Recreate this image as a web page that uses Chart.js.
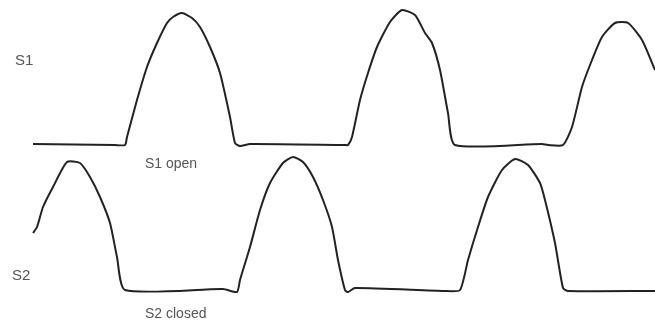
<!DOCTYPE html>
<html>
<head>
<meta charset="utf-8">
<script src="https://cdn.jsdelivr.net/npm/chart.js@4/dist/chart.umd.min.js"></script>
<style>
  html, body { margin: 0; padding: 0; background: #fff; }
  #wrap { width: 655px; height: 321px; }
</style>
</head>
<body>
<div id="wrap"><canvas id="chartWave" width="655" height="321"></canvas></div>
<script>
// switch S1 waveform (time, level)
const s1Time = [33,115,125,127,137,147,157,167,173,182,192,200,210,220,230,235,240,250,345,348,352,360,368,377,390,402,415,425,432,440,448,455,542,548,563,572,582,592,602,615,628,642,655];
const s1Level = [177,176,176,184,221,254,278,298,304,308,303,294,274,248,204,178,175,177,176,176,184,221,248,274,299,311,306,288,278,251,208,176,177,176,176,194,234,261,284,298,298,281,251];

// switch S2 waveform
const s2Time = [33,37,43,53,67,80,90,100,110,117,125,223,237,240,250,260,270,283,293,303,313,323,332,338,345,348,355,445,460,468,478,488,502,515,528,540,545,555,563,568,655];
const s2Level = [88,94,114,134,159,158,144,124,98,64,31,32,29,41,74,111,138,158,164,159,144,121,94,61,31,29,33,30,31,61,94,124,151,162,156,138,121,78,33,30,30];

// annotations
const noteText = ["S1", "S1 open", "S2", "S2 closed"];
const noteTime = [15, 145, 12, 145];
const noteLevel = [256, 153, 41, 3];
const noteSize = [15, 14, 15, 14];

const toPoints = (xs, ys) => xs.map((x, i) => ({ x: x, y: ys[i] }));

const notesPlugin = {
    id: "notes",
    afterDatasetsDraw(chart) {
        const ctx = chart.ctx;
        const sx = chart.scales.x, sy = chart.scales.y;
        ctx.save();
        ctx.fillStyle = "#555";
        ctx.textBaseline = "alphabetic";
        ctx.textAlign = "left";
        noteText.forEach((t, i) => {
            ctx.font = noteSize[i] + "px 'Liberation Sans', Arial, sans-serif";
            ctx.fillText(t, sx.getPixelForValue(noteTime[i]), sy.getPixelForValue(noteLevel[i]));
        });
        ctx.restore();
    }
};

const lineStyle = {
    borderColor: "#222",
    borderWidth: 2,
    pointRadius: 0,
    fill: false,
    tension: 0.2,
    borderJoinStyle: "round"
};

new Chart(document.getElementById("chartWave").getContext("2d"), {
    type: "line",
    data: {
        datasets: [
            { label: "S1", data: toPoints(s1Time, s1Level), ...lineStyle },
            { label: "S2", data: toPoints(s2Time, s2Level), ...lineStyle }
        ]
    },
    options: {
        responsive: false,
        animation: false,
        layout: { padding: 0 },
        plugins: {
            legend: { display: false },
            tooltip: { enabled: false }
        },
        scales: {
            x: { type: "linear", min: 0, max: 655, display: false },
            y: { type: "linear", min: 0, max: 321, display: false }
        }
    },
    plugins: [notesPlugin]
});
</script>
</body>
</html>
